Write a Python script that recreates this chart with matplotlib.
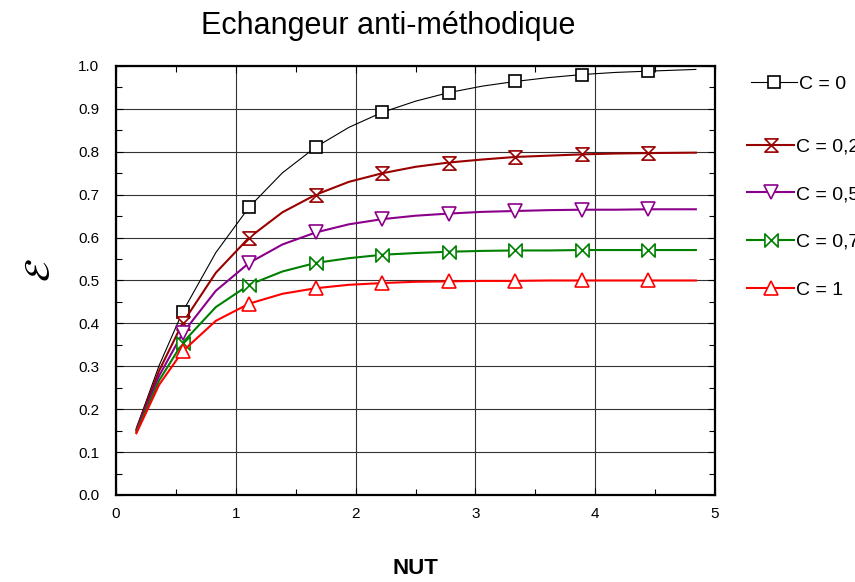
import matplotlib
matplotlib.use('Agg')
import matplotlib.pyplot as plt
from matplotlib.path import Path
from matplotlib.ticker import MultipleLocator

plt.rcParams['font.family'] = ['Liberation Sans', 'DejaVu Sans']

# NUT values (line points) and effectiveness for each C
nut = [0.17, 0.36, 0.556, 0.833, 1.111, 1.389, 1.667, 1.944, 2.222, 2.5,
       2.778, 3.056, 3.333, 3.611, 3.889, 4.167, 4.444, 4.84]
eps_c0 = [0.156, 0.302, 0.427, 0.565, 0.671, 0.751, 0.811, 0.857, 0.892, 0.918,
          0.938, 0.953, 0.964, 0.973, 0.980, 0.985, 0.988, 0.992]
eps_c025 = [0.153, 0.290, 0.401, 0.518, 0.600, 0.659, 0.700, 0.730, 0.750, 0.765,
            0.775, 0.782, 0.788, 0.791, 0.794, 0.796, 0.797, 0.798]
eps_c05 = [0.150, 0.278, 0.377, 0.476, 0.541, 0.584, 0.612, 0.631, 0.643, 0.651,
           0.656, 0.660, 0.662, 0.664, 0.665, 0.665, 0.666, 0.666]
eps_c075 = [0.147, 0.267, 0.355, 0.438, 0.490, 0.521, 0.541, 0.552, 0.560, 0.564,
            0.567, 0.569, 0.570, 0.570, 0.571, 0.571, 0.571, 0.571]
eps_c1 = [0.144, 0.257, 0.335, 0.406, 0.446, 0.469, 0.482, 0.490, 0.494, 0.497,
          0.498, 0.499, 0.499, 0.500, 0.500, 0.500, 0.500, 0.500]
labels = ['C = 0', 'C = 0,25', 'C = 0,5', 'C = 0,75', 'C = 1']
marker_idx = [2, 4, 6, 8, 10, 12, 14, 16]

# custom marker shapes
hourglass = Path([(-1, 1), (1, 1), (-1, -1), (1, -1), (-1, 1)],
                 [Path.MOVETO, Path.LINETO, Path.LINETO, Path.LINETO, Path.CLOSEPOLY])
bowtie = Path([(-1, 1), (-1, -1), (1, 1), (1, -1), (-1, 1)],
              [Path.MOVETO, Path.LINETO, Path.LINETO, Path.LINETO, Path.CLOSEPOLY])

series = [eps_c0, eps_c025, eps_c05, eps_c075, eps_c1]
colors = ['black', '#990000', '#8B008B', '#008000', '#FF0000']
markers = ['s', hourglass, 'v', bowtie, '^']
msizes = [8.5, 9.5, 9.5, 9.5, 9.5]
lwidths = [0.8, 1.5, 1.5, 1.5, 1.5]

fig = plt.figure(figsize=(8.55, 5.82), dpi=100)
ax = fig.add_axes([0.1357, 0.1495, 0.7006, 0.7371])

handles = []
for y, col, mk, ms, lw, lab in zip(series, colors, markers, msizes, lwidths, labels):
    h, = ax.plot(nut, y, color=col, lw=lw, marker=mk, markersize=ms,
                 markevery=marker_idx, markerfacecolor='white',
                 markeredgecolor=col, markeredgewidth=1.2, label=lab)
    handles.append(h)

ax.set_xlim(0, 5)
ax.set_ylim(0, 1.0)
ax.xaxis.set_major_locator(MultipleLocator(1))
ax.xaxis.set_minor_locator(MultipleLocator(0.5))
ax.yaxis.set_major_locator(MultipleLocator(0.1))
ax.yaxis.set_minor_locator(MultipleLocator(0.05))
ax.yaxis.set_major_formatter(matplotlib.ticker.FormatStrFormatter('%.1f'))
ax.tick_params(which='both', direction='in', top=True, right=True, labelsize=11)
ax.tick_params(which='major', length=5, width=0.8)
ax.tick_params(which='minor', length=4, width=0.8)
ax.tick_params(axis='x', pad=9)
ax.tick_params(axis='y', pad=12)
ax.grid(True, which='major', color='#333333', lw=0.8)
ax.set_axisbelow(True)
for sp in ax.spines.values():
    sp.set_linewidth(1.6)

ax.set_xlabel('NUT', fontsize=16, fontweight='bold', labelpad=26)
fig.text(0.047, 0.535, r'$\mathcal{E}$', fontsize=26, rotation=90,
         ha='center', va='center')
fig.text(0.454, 0.955, 'Echangeur anti-méthodique', fontsize=22,
         ha='center', va='center')

# legend sits half outside the figure, as in the original
leg1 = fig.legend(handles=handles[:1], loc='center left',
                  bbox_to_anchor=(0.878, 0.856), frameon=False, fontsize=14,
                  handlelength=2.4, handletextpad=0.1, borderpad=0, borderaxespad=0)
leg2 = fig.legend(handles=handles[1:], loc='center left',
                  bbox_to_anchor=(0.874, 0.625), frameon=False, fontsize=14,
                  handlelength=2.4, handletextpad=0.1, borderpad=0, borderaxespad=0,
                  labelspacing=1.55)

fig.savefig('out.png', dpi=100)
